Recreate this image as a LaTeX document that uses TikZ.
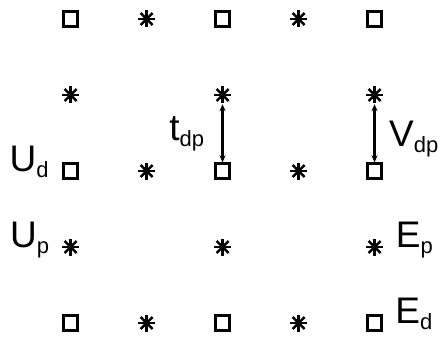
\documentclass[tikz,border=0pt]{standalone}
\usepackage{fontspec}
\setmainfont{Liberation Sans}
\usetikzlibrary{arrows.meta,positioning}
\newcommand{\lowsub}[1]{\raisebox{-6pt}{\fontsize{22}{22}\selectfont #1}}
\tikzset{
  dnode/.style={draw,rectangle,line width=2.7pt,minimum size=14.6pt,inner sep=0pt},
  pnode/.style={circle,minimum size=18pt,inner sep=0pt,path picture={
    \foreach \a in {0,45,90,135}
      \draw[line width=2.5pt] ([shift={(\a:8.5pt)}]path picture bounding box.center) -- ([shift={(\a:-8.5pt)}]path picture bounding box.center);}},
  lbl/.style={font=\fontsize{37}{37}\selectfont,inner sep=0pt},
  dim/.style={{Stealth[length=7pt,width=6pt]}-{Stealth[length=7pt,width=6pt]},line width=2.5pt}
}
\begin{document}
\begin{tikzpicture}[x=76pt,y=76pt]
\useasboundingbox (-0.928,-0.171) rectangle (4.914,4.25);
% top row
\node[dnode] (d04) at (0,4) {};
\node[pnode] (p14) at (1,4) {};
\node[dnode] (d24) at (2,4) {};
\node[pnode] (p34) at (3,4) {};
\node[dnode] (d44) at (4,4) {};
\node[pnode] (p03) at (0,3) {};
\node[pnode] (p23) at (2,3) {};
\node[pnode] (p43) at (4,3) {};
% middle row
\node[dnode] (d02) at (0,2) {};
\node[pnode] (p12) at (1,2) {};
\node[dnode] (d22) at (2,2) {};
\node[pnode] (p32) at (3,2) {};
\node[dnode] (d42) at (4,2) {};
\node[pnode] (p01) at (0,1) {};
\node[pnode] (p21) at (2,1) {};
\node[pnode] (p41) at (4,1) {};
% bottom row
\node[dnode] (d00) at (0,0) {};
\node[pnode] (p10) at (1,0) {};
\node[dnode] (d20) at (2,0) {};
\node[pnode] (p30) at (3,0) {};
\node[dnode] (d40) at (4,0) {};
\draw[dim] (p23) -- (d22);
\draw[dim] (p43) -- (d42);
\node[lbl,anchor=base east] (tdp) at (1.76,2.395) {t\lowsub{dp}};
\node[lbl,anchor=base west] (vdp) at (4.19,2.316) {V\lowsub{dp}};
\node[lbl,base left=13pt of d02] (ud) {U\lowsub{d}};
\node[lbl,base left=12pt of p01] (up) {U\lowsub{p}};
\node[lbl,base right=12pt of p41] (ep) {E\lowsub{p}};
\node[lbl,base right=12pt of d40] (ed) {E\lowsub{d}};
\end{tikzpicture}
\end{document}
